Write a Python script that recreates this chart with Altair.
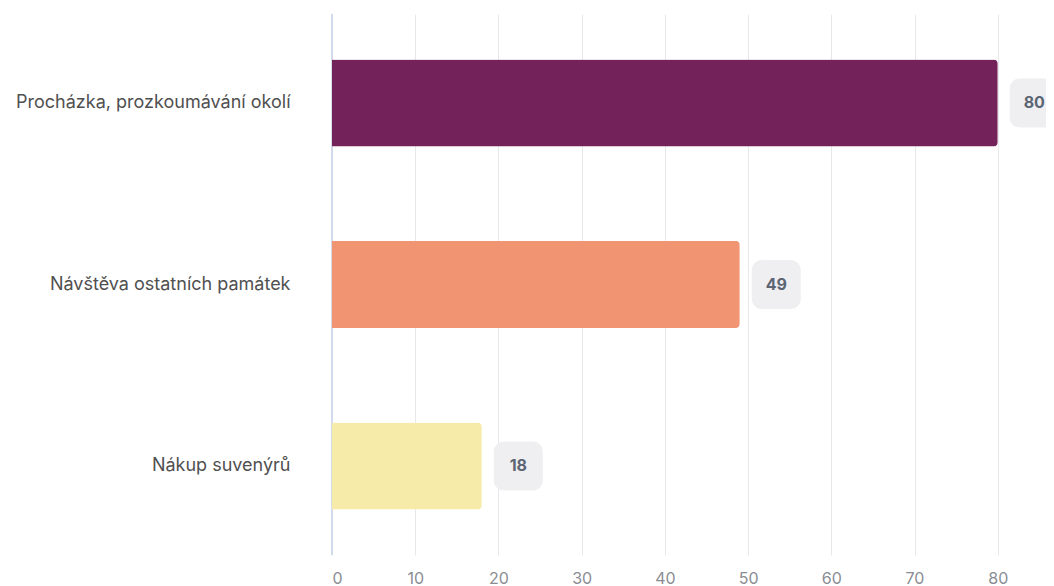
import altair as alt
import pandas as pd

categories = ["Procházka, prozkoumávání okolí", "Návštěva ostatních památek", "Nákup suvenýrů"]
values = [80, 49, 18]
colors = ["#74235a", "#f19471", "#f6eba9"]

df = pd.DataFrame({"cat": categories, "value": values, "color": colors, "label": [str(v) for v in values]})

x_scale = alt.Scale(domain=[0, 85.8], nice=False, zero=True)
y_enc = alt.Y("cat:N", sort=categories, title=None,
              scale=alt.Scale(paddingInner=0.52, paddingOuter=0.25),
              axis=alt.Axis(labelFontSize=18, labelColor="#505050", labelFont="Inter",
                            labelPadding=42, ticks=False, domain=False, labelLimit=400))

bars = alt.Chart(df).mark_bar(cornerRadiusEnd=4).encode(
    x=alt.X("value:Q", scale=x_scale, title=None,
            axis=alt.Axis(values=list(range(0, 81, 10)), grid=True, gridColor="#e6e8ec",
                          gridWidth=1, domain=False, ticks=False, labelFontSize=16,
                          labelColor="#8a8d93", labelFont="Inter", labelPadding=15)),
    y=y_enc,
    color=alt.Color("color:N", scale=None),
)

zero = alt.Chart(df).mark_rule(color="#cdd6ea", strokeWidth=1).encode(
    x=alt.value(0),
    y=alt.value(0), y2=alt.value(541)
)

badge = alt.Chart(df).mark_bar(color="#efeff1", cornerRadius=10, height=49, xOffset=12, x2Offset=61, clip=True).encode(
    x=alt.X("value:Q", scale=x_scale),
    x2="value:Q",
    y=alt.Y("cat:N", sort=categories),
)

text = alt.Chart(df).mark_text(font="Inter", fontSize=16, fontWeight="bold", color="#5b6574",
                               dx=36.5, align="center", baseline="middle").encode(
    x=alt.X("value:Q", scale=x_scale),
    y=alt.Y("cat:N", sort=categories),
    text="label:N",
)

chart = alt.layer(zero, bars, badge, text).properties(
    width=714, height=541,
    autosize=alt.AutoSizeParams(type="none"),
    padding={"left": 324, "top": 6, "right": 0, "bottom": 31},
).configure_view(stroke=None)

chart.save("out.html", embed_options={"renderer": "svg", "actions": False})
